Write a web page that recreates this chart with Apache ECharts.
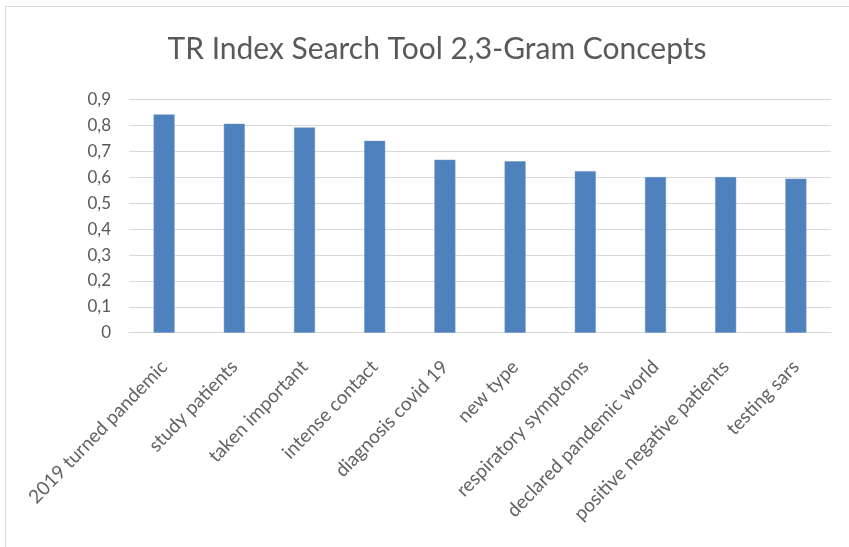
<!DOCTYPE html>
<html>
<head>
<meta charset="utf-8">
<script src="https://cdn.jsdelivr.net/npm/echarts@6/dist/echarts.min.js"></script>
<style>
  html, body { margin: 0; padding: 0; background: #fff; }
  #frame { position: absolute; left: 5px; top: 6px; width: 844px; height: 541px;
           border-left: 1px solid #d9d9d9; border-top: 1px solid #d9d9d9; }
  #chart { position: absolute; left: 0; top: 0; width: 849px; height: 547px; }
</style>
</head>
<body>
<div id="frame"></div>
<div id="chart"></div>
<script>
const categories = [
  '2019 turned pandemic', 'study patients', 'taken important', 'intense contact',
  'diagnosis covid 19', 'new type', 'respiratory symptoms', 'declared pandemic world',
  'positive negative patients', 'testing sars'
]
const scores = [0.843, 0.807, 0.793, 0.741, 0.668, 0.662, 0.624, 0.601, 0.601, 0.595]

const font = 'Lato, "Open Sans", sans-serif'

let chart = echarts.init(document.getElementById('chart'), null, { renderer: 'canvas' })
chart.setOption({
  animation: false,
  title: {
    text: 'TR Index Search Tool 2,3-Gram Concepts',
    left: 432,
    top: 29,
    textAlign: 'center',
    textStyle: { fontFamily: font, fontSize: 30, fontWeight: 'normal', color: '#595959' }
  },
  grid: { left: 129, right: 18, top: 99.7, bottom: 214.3, containLabel: false },
  xAxis: {
    type: 'category',
    data: categories,
    axisLine: { lineStyle: { color: '#d9d9d9', width: 1 } },
    axisTick: { show: false },
    axisLabel: {
      interval: 0,
      rotate: 46,
      margin: 31,
      fontFamily: font,
      fontSize: 19,
      color: '#636363'
    }
  },
  yAxis: {
    type: 'value',
    min: 0,
    max: 0.9,
    interval: 0.1,
    axisLine: { show: false },
    axisTick: { show: false },
    splitLine: { lineStyle: { color: '#d9d9d9', width: 1 } },
    axisLabel: {
      margin: 18,
      fontFamily: font,
      fontSize: 17,
      color: '#595959',
      formatter: (v) => (Math.round(v * 10) / 10).toString().replace('.', ',')
    }
  },
  series: [{
    type: 'bar',
    data: scores,
    barWidth: 21,
    itemStyle: { color: '#4F81BD', borderColor: '#6b95c9', borderWidth: 0.5 }
  }]
})
</script>
</body>
</html>
